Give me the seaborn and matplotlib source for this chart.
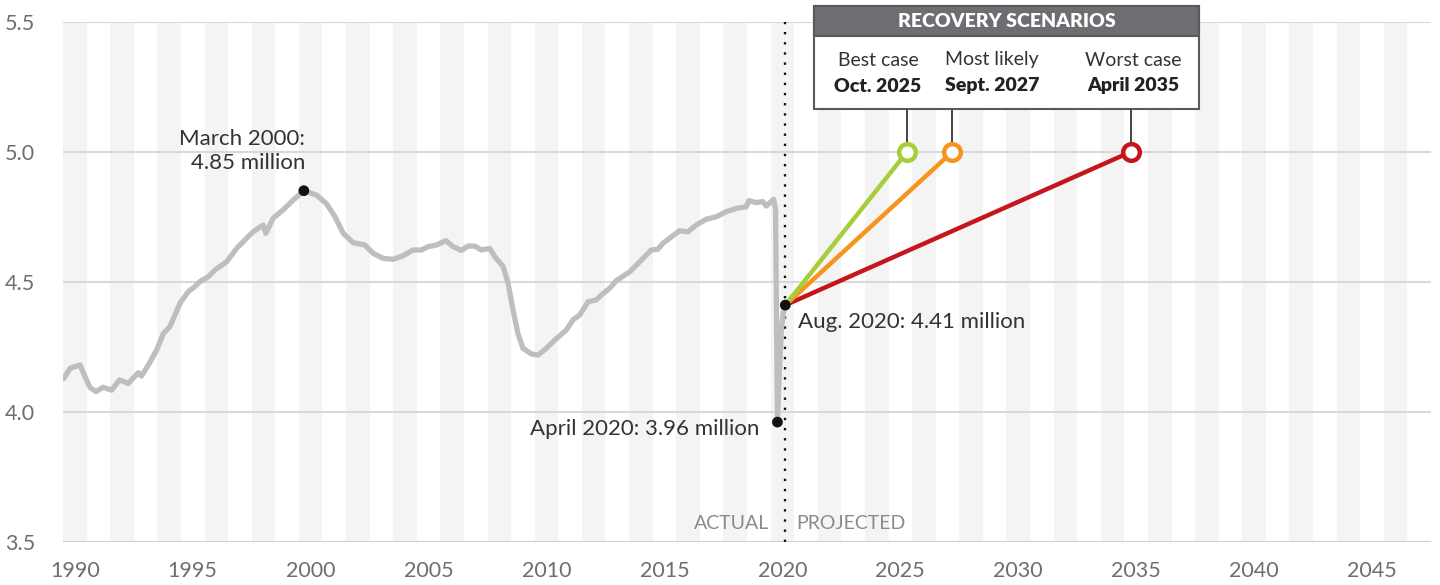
import matplotlib
matplotlib.use("Agg")
import matplotlib.pyplot as plt
import seaborn as sns
import pandas as pd
from matplotlib.patches import Rectangle

# ---------------- data ----------------
# actual series (decimal year, millions)
actual_year = [1990.04, 1990.3, 1990.72, 1990.93, 1991.14, 1991.4, 1991.7, 1992.06, 1992.39,
               1992.77, 1993.19, 1993.33, 1993.66, 1993.97, 1994.25, 1994.53, 1994.96, 1995.31,
               1995.59, 1995.8, 1996.16, 1996.44, 1996.94, 1997.36, 1997.85, 1998.06, 1998.49,
               1998.6, 1998.91, 1999.33, 1999.76, 2000.21, 2000.75, 2001.17, 2001.53, 2001.88,
               2002.3, 2002.8, 2003.15, 2003.57, 2004.0, 2004.42, 2004.84, 2005.2, 2005.48,
               2005.83, 2006.23, 2006.54, 2006.89, 2007.17, 2007.46, 2007.74, 2008.09, 2008.31,
               2008.66, 2008.87, 2009.08, 2009.29, 2009.5, 2009.86, 2010.14, 2010.5, 2010.85,
               2011.34, 2011.62, 2011.91, 2012.26, 2012.61, 2012.83, 2013.18, 2013.46, 2014.03,
               2014.52, 2014.94, 2015.22, 2015.44, 2016.14, 2016.5, 2016.85, 2017.27, 2017.7,
               2018.12, 2018.55, 2018.97, 2019.08, 2019.39, 2019.67, 2019.82, 2020.04, 2020.13,
               2020.21, 2020.29, 2020.38, 2020.46, 2020.54, 2020.625]
actual_value = [4.128, 4.167, 4.18, 4.135, 4.094, 4.077, 4.094, 4.083, 4.122,
                4.109, 4.15, 4.137, 4.186, 4.237, 4.30, 4.327, 4.417, 4.462,
                4.481, 4.50, 4.519, 4.545, 4.577, 4.628, 4.673, 4.692, 4.718,
                4.686, 4.744, 4.776, 4.814, 4.85, 4.833, 4.80, 4.75, 4.686,
                4.65, 4.641, 4.609, 4.59, 4.586, 4.60, 4.622, 4.622, 4.635,
                4.641, 4.658, 4.635, 4.62, 4.637, 4.637, 4.622, 4.628, 4.596,
                4.558, 4.494, 4.391, 4.30, 4.244, 4.222, 4.218, 4.244, 4.276,
                4.314, 4.353, 4.372, 4.423, 4.43, 4.449, 4.475, 4.504, 4.538,
                4.583, 4.622, 4.625, 4.648, 4.696, 4.692, 4.718, 4.74, 4.75,
                4.769, 4.782, 4.788, 4.812, 4.804, 4.808, 4.791, 4.81, 4.817,
                4.78, 3.96, 4.17, 4.32, 4.38, 4.41]

# highlighted points
point_year = [2000.21, 2020.29, 2020.625]
point_value = [4.85, 3.96, 4.41]
point_label = ["March 2000:\n4.85 million", "April 2020: 3.96 million", "Aug. 2020: 4.41 million"]

# recovery scenarios
scenario_name = ["Worst case", "Most likely", "Best case"]
scenario_date = ["April 2035", "Sept. 2027", "Oct. 2025"]
scenario_year = [2035.29, 2027.71, 2025.79]
scenario_target = 5.0
scenario_color = ["#c4161c", "#f7941d", "#a6ce39"]
start_year, start_value = 2020.625, 4.41

x_ticks = list(range(1990, 2050, 5))
y_ticks = [3.5, 4.0, 4.5, 5.0, 5.5]

# ---------------- style ----------------
sns.set_theme(style="white")
plt.rcParams["font.family"] = ["Lato", "DejaVu Sans"]

W, H = 1440, 585
fig = plt.figure(figsize=(W / 100, H / 100), dpi=100)
ax = fig.add_axes([63 / W, 1 - 541.7 / H, (1431 - 63) / W, (541.7 - 21.7) / H])
ax.set_xlim(1990, 2048)
ax.set_ylim(3.5, 5.5)

# year stripes
for y in range(1990, 2048, 2):
    ax.axvspan(y, y + 1, color="#f4f4f4", lw=0, zorder=0)

for v in y_ticks:
    ax.axhline(v, color="#d9d9d9" if v > 3.5 else "#cfcfcf", lw=1.5, zorder=1)

ax.set_yticks(y_ticks)
ax.set_yticklabels([f"{v:.1f}" for v in y_ticks], fontsize=15.5, color="#6d6e71")
ax.set_xticks([t + 0.5 for t in x_ticks])
ax.set_xticklabels([str(t) for t in x_ticks], fontsize=15.5, color="#6d6e71")
ax.tick_params(axis="y", length=0, pad=20)
ax.tick_params(axis="x", length=0, pad=14)
for s in ax.spines.values():
    s.set_visible(False)

# divider
ax.axvline(start_year, color="#111111", lw=1.7, ls=(0, (1, 3.3)), zorder=2)
ax.text(start_year - 0.68, 3.57, "ACTUAL", ha="right", va="center", fontsize=14, color="#8a8a8a")
ax.text(start_year + 0.48, 3.57, "PROJECTED", ha="left", va="center", fontsize=14, color="#8a8a8a")

# actual line
df = pd.DataFrame({"year": actual_year, "value": actual_value})
sns.lineplot(data=df, x="year", y="value", ax=ax, color="#bcbec0", lw=3.8, zorder=3,
             estimator=None, sort=False)

# scenarios
for name, yr, col in zip(scenario_name, scenario_year, scenario_color):
    sdf = pd.DataFrame({"year": [start_year, yr], "value": [start_value, scenario_target]})
    sns.lineplot(data=sdf, x="year", y="value", ax=ax, color=col, lw=3.2, zorder=4,
                 estimator=None, sort=False)
    ax.plot([yr, yr], [scenario_target + 0.03, 5.166], color="#111111", lw=1.1, zorder=4,
            solid_capstyle="butt")
    ax.plot([yr], [scenario_target], marker="o", ms=12, mfc="white", mec=col, mew=3.2, zorder=6)

pdf = pd.DataFrame({"year": point_year, "value": point_value})
sns.scatterplot(data=pdf, x="year", y="value", ax=ax, color="#111111", s=60, zorder=7,
                edgecolor="none")
ax.set_xlabel("")
ax.set_ylabel("")

txt = dict(fontsize=16, color="#333333")
ax.annotate(point_label[0], (point_year[0], point_value[0]), xytext=(1, 13),
            textcoords="offset points", ha="right", va="bottom", linespacing=1.2,
            multialignment="right", **txt)
ax.annotate(point_label[1], (point_year[1], point_value[1]), xytext=(-13, -5),
            textcoords="offset points", ha="right", va="center", **txt)
ax.annotate(point_label[2], (point_year[2], point_value[2]), xytext=(9, -12.5),
            textcoords="offset points", ha="left", va="center", **txt)

# legend box (figure pixel coordinates)
def fx(px):
    return px / W

def fy(py):
    return 1 - py / H

bx0, bx1, by0, byh, by1 = 814, 1199, 6, 36, 108.7
fig.patches.append(Rectangle((fx(bx0), fy(by1)), fx(bx1 - bx0), (by1 - by0) / H,
                             transform=fig.transFigure, facecolor="white",
                             edgecolor="#58595b", lw=1.5, zorder=10))
fig.patches.append(Rectangle((fx(bx0), fy(byh)), fx(bx1 - bx0), (byh - by0) / H,
                             transform=fig.transFigure, facecolor="#6d6e71",
                             edgecolor="#58595b", lw=1.5, zorder=11))
fig.text(fx((bx0 + bx1) / 2), fy(21.5), "RECOVERY SCENARIOS", ha="center", va="center",
         fontsize=14, fontweight="heavy", color="white", zorder=12)

label_cx = {"Best case": 878, "Most likely": 992, "Worst case": 1133}
for name, date in zip(scenario_name, scenario_date):
    cx = label_cx[name]
    fig.text(fx(cx), fy(60), name, ha="center", va="center", fontsize=14,
             color="#333333", zorder=12)
    fig.text(fx(cx), fy(86), date, ha="center", va="center", fontsize=14,
             fontweight="heavy", color="#222222", zorder=12)

fig.savefig("out.png", dpi=100)
